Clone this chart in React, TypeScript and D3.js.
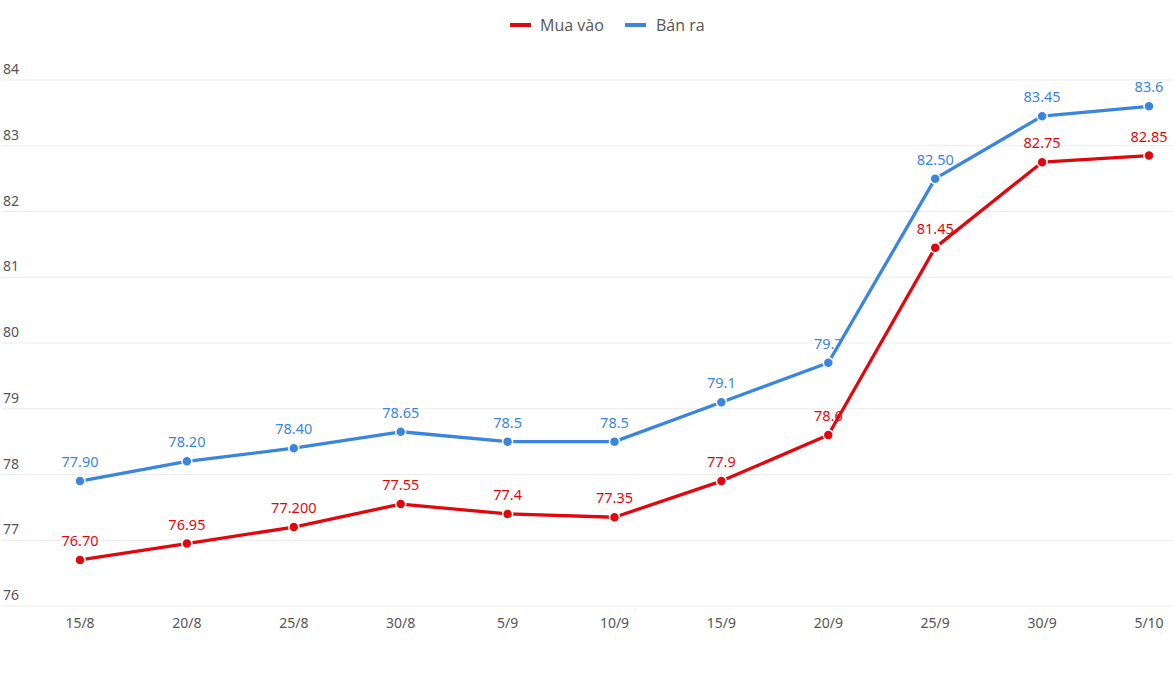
import React from 'react'
import * as d3 from 'd3'

const dates = ['15/8', '20/8', '25/8', '30/8', '5/9', '10/9', '15/9', '20/9', '25/9', '30/9', '5/10']
const buy = [76.7, 76.95, 77.2, 77.55, 77.4, 77.35, 77.9, 78.6, 81.45, 82.75, 82.85]
const buyLabels = ['76.70', '76.95', '77.200', '77.55', '77.4', '77.35', '77.9', '78.6', '81.45', '82.75', '82.85']
const sell = [77.9, 78.2, 78.4, 78.65, 78.5, 78.5, 79.1, 79.7, 82.5, 83.45, 83.6]
const sellLabels = ['77.90', '78.20', '78.40', '78.65', '78.5', '78.5', '79.1', '79.7', '82.50', '83.45', '83.6']
const yTicks = [76, 77, 78, 79, 80, 81, 82, 83, 84]

const RED = '#e0080f'
const BLUE = '#3a86dc'
const W = 1173
const H = 675

const x = d3.scalePoint<string>().domain(dates).range([80, 1149])
const y = d3.scaleLinear().domain([76, 84]).range([606, 80])
const line = d3
  .line<number>()
  .x((_, i) => x(dates[i]) as number)
  .y(d => y(d))

const Series = ({ values, labels, color }: { values: number[]; labels: string[]; color: string }) => (
  <g>
    <path d={line(values) || ''} fill="none" stroke={color} strokeWidth={3.3} strokeLinejoin="round" />
    {values.map((v, i) => (
      <g key={i}>
        <circle cx={x(dates[i])} cy={y(v)} r={5} fill={color} stroke="#fff" strokeWidth={1.5} />
        <text x={x(dates[i])} y={y(v) - 14} textAnchor="middle" fill={color} fontSize={14.5}>
          {labels[i]}
        </text>
      </g>
    ))}
  </g>
)

export default function App() {
  return (
    <svg
      width={W}
      height={H}
      style={{ position: 'absolute', left: 0, top: 0, background: '#fff' }}
      fontFamily="'Noto Sans', sans-serif"
    >
      {yTicks.map(t => (
        <g key={t}>
          <line x1={2} x2={W} y1={y(t)} y2={y(t)} stroke="#ebebeb" />
          <text x={3} y={y(t) - 6} fill="#555" fontSize={14}>
            {t}
          </text>
        </g>
      ))}
      {dates.map(d => (
        <text key={d} x={x(d)} y={628} textAnchor="middle" fill="#555" fontSize={14}>
          {d}
        </text>
      ))}
      <Series values={buy} labels={buyLabels} color={RED} />
      <Series values={sell} labels={sellLabels} color={BLUE} />
      <g fontFamily="'Open Sans', sans-serif" fontSize={16} fill="#555">
        <line x1={510} x2={531} y1={25} y2={25} stroke={RED} strokeWidth={4} />
        <text x={540} y={31}>Mua vào</text>
        <line x1={625} x2={646} y1={25} y2={25} stroke={BLUE} strokeWidth={4} />
        <text x={656} y={31}>Bán ra</text>
      </g>
    </svg>
  )
}
